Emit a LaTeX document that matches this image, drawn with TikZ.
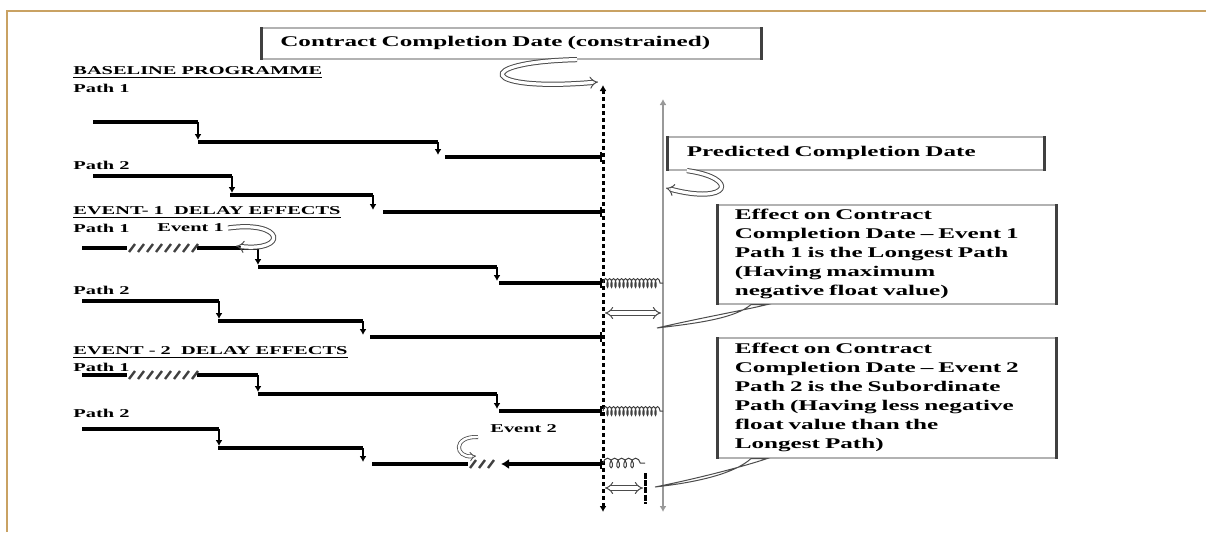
\documentclass[tikz,border=0pt]{standalone}
\usepackage{fontspec}
\newfontfamily\figfont{Liberation Serif Bold}[FakeStretch=1.7]
\usetikzlibrary{arrows.meta,decorations.pathmorphing}
\definecolor{framegold}{RGB}{201,162,99}

\begin{document}
\begin{tikzpicture}[x=0.5pt,y=-0.5pt,
  bar/.style={line width=2pt},
  drop/.style={line width=0.6pt,-{Latex[length=3pt,width=3.5pt]}},
  endbar/.style={line width=2pt,-{Bar[width=5pt,line width=0.8pt]}},
  hatch/.style={line width=1.2pt,black!75},
  lbl/.style={inner sep=0pt,anchor=west,font=\figfont\fontsize{6}{7}\selectfont},
  box/.style={draw=gray!60,line width=0.8pt,anchor=north west,align=left,inner ysep=2pt,font=\figfont\fontsize{7.4}{9.5}\selectfont},
  boxside/.style={line width=1.5pt,black!75},
  ccdline/.style={line width=1.5pt,dash pattern=on 2pt off 1.5pt,{Latex[length=3pt,width=3.5pt]}-{Latex[length=3pt,width=3.5pt]}},
  pcdline/.style={gray!80,line width=1.4pt,{Latex[length=3pt,width=3.5pt]}-{Latex[length=3pt,width=3.5pt]}},
  hollow/.style={draw=gray!60!black,line width=0.5pt,double=white,double distance=1.6pt,-{Implies}},
  gap/.style={draw=gray!60!black,line width=0.5pt,double=white,double distance=1.6pt,{Implies}-{Implies}},
  wedge/.style={draw=gray!60!black,line width=0.5pt,fill=white},
  spring/.style={gray!50!black,line width=0.5pt,decorate,decoration={coil,aspect=0.35,segment length=2pt,amplitude=2.2pt}},
  loops/.style={gray!50!black,line width=0.5pt,decorate,decoration={coil,aspect=0.6,segment length=3.5pt,amplitude=2.4pt}}
]
\useasboundingbox (0,0) rectangle (1206,532);
\draw[framegold,line width=1pt] (7,532) -- (7,11) -- (1206,11);

% boxes
\node[box,minimum height=15.5pt,text width=231pt,inner xsep=9.25pt] (ccd) at (261,27) {Contract Completion Date (constrained)};
\node[box,minimum height=16.5pt,text width=169pt,inner xsep=9.5pt] (pcd) at (667,136) {Predicted Completion Date};
\node[box,minimum height=49.5pt,text width=152pt,inner xsep=8.5pt] (eff1) at (717,204)
  {Effect on Contract\\Completion Date – Event 1\\Path 1 is the Longest Path\\(Having maximum\\negative float value)};
\node[box,minimum height=60pt,text width=152pt,inner xsep=8.5pt] (eff2) at (717,337)
  {Effect on Contract\\Completion Date – Event 2\\Path 2 is the Subordinate\\Path (Having less negative\\float value than the\\Longest Path)};
\foreach \b in {ccd,pcd,eff1,eff2}
  \draw[boxside] (\b.north west) -- (\b.south west) (\b.north east) -- (\b.south east);

% labels
\node[lbl] (base) at (73,73) {\underline{BASELINE PROGRAMME}};
\node[lbl] (b1) at (73,88) {Path 1};
\node[lbl] (b2) at (73,165) {Path 2};
\node[lbl] (e1) at (73,213) {\underline{EVENT- 1\ \ DELAY EFFECTS}};
\node[lbl] (e1p1) at (73,228) {Path 1};
\node[lbl] (ev1) at (157,228) {Event 1};
\node[lbl] (e1p2) at (73,290) {Path 2};
\node[lbl] (e2) at (73,353) {\underline{EVENT - 2\ \ DELAY EFFECTS}};
\node[lbl] (e2p1) at (73,367) {Path 1};
\node[lbl] (e2p2) at (73,413) {Path 2};
\node[lbl] (ev2) at (490,429) {Event 2};

% completion date lines
\draw[ccdline] (603,85) -- (603,512);
\draw[pcdline] (663,99) -- (663,512);

% baseline, path 1
\draw[bar] (93,122) -- (198,122);
\draw[drop] (198,122) -- (198,140);
\draw[bar] (198,142) -- (438,142);
\draw[drop] (438,142) -- (438,155);
\draw[endbar] (445,157) -- (602,157);
% baseline, path 2
\draw[bar] (93,176) -- (232,176);
\draw[drop] (232,176) -- (232,193);
\draw[bar] (230,195) -- (373,195);
\draw[drop] (373,195) -- (373,210);
\draw[endbar] (383,212) -- (602,212);

% event 1, path 1
\draw[bar] (82,248) -- (127,248) (197,248) -- (258,248);
\foreach \x in {129,138,...,192} \draw[hatch] (\x,252) -- (\x+6,244);
\draw[drop] (258,248) -- (258,265);
\draw[bar] (258,267) -- (497,267);
\draw[drop] (497,267) -- (497,281);
\draw[endbar] (499,283) -- (602,283);
% event 1, path 2
\draw[bar] (82,301) -- (219,301);
\draw[drop] (219,301) -- (219,319);
\draw[bar] (218,321) -- (363,321);
\draw[drop] (363,321) -- (363,335);
\draw[endbar] (370,337) -- (602,337);

% event 2, path 1
\draw[bar] (82,375) -- (127,375) (197,375) -- (258,375);
\foreach \x in {129,138,...,192} \draw[hatch] (\x,379) -- (\x+6,371);
\draw[drop] (258,375) -- (258,392);
\draw[bar] (258,394) -- (497,394);
\draw[drop] (497,394) -- (497,409);
\draw[endbar] (499,411) -- (602,411);
% event 2, path 2
\draw[bar] (82,429) -- (219,429);
\draw[drop] (219,429) -- (219,446);
\draw[bar] (218,448) -- (363,448);
\draw[drop] (363,448) -- (363,462);
\draw[bar] (372,464) -- (468,464);
\foreach \x in {470,479,488} \draw[hatch] (\x,468) -- (\x+6,460);
\draw[endbar,{Latex[length=4pt,width=5pt]}-{Bar[width=5pt,line width=0.8pt]}] (501,464) -- (602,464);

% delay between the lines
\draw[spring] (603,283) -- (663,283);
\draw[spring] (603,411) -- (663,411);
\draw[loops] (603,463) -- (645,463);
\draw[gap] (605,313) -- (661,313);
\draw[gap] (605,488) -- (643,488);
\draw[line width=1.5pt,dash pattern=on 3pt off 0.6pt] (645,473) -- (645,504);

% call-outs
\draw[hollow] ([xshift=158pt]ccd.south west) .. controls (470,62) and (480,92) .. (598,82);
\draw[hollow] ([xshift=2pt]ev1.east) .. controls (285,220) and (288,252) .. (236,246);
\draw[hollow] ([xshift=10pt]pcd.south west) .. controls (740,178) and (730,205) .. (666,188);
\draw[hollow,line width=0.4pt,double distance=1.2pt] (478,437) .. controls (452,436) and (455,458) .. (476,456);
\draw[wedge] ([xshift=17pt]eff1.south west) .. controls (735,318) and (700,323) .. (657,328)
  .. controls (700,318) and (745,310) .. ([xshift=25pt]eff1.south west) -- cycle;
\draw[wedge] ([xshift=17pt]eff2.south west) .. controls (735,473) and (700,482) .. (655,487)
  .. controls (700,478) and (745,466) .. ([xshift=25pt]eff2.south west) -- cycle;
\end{tikzpicture}
\end{document}
